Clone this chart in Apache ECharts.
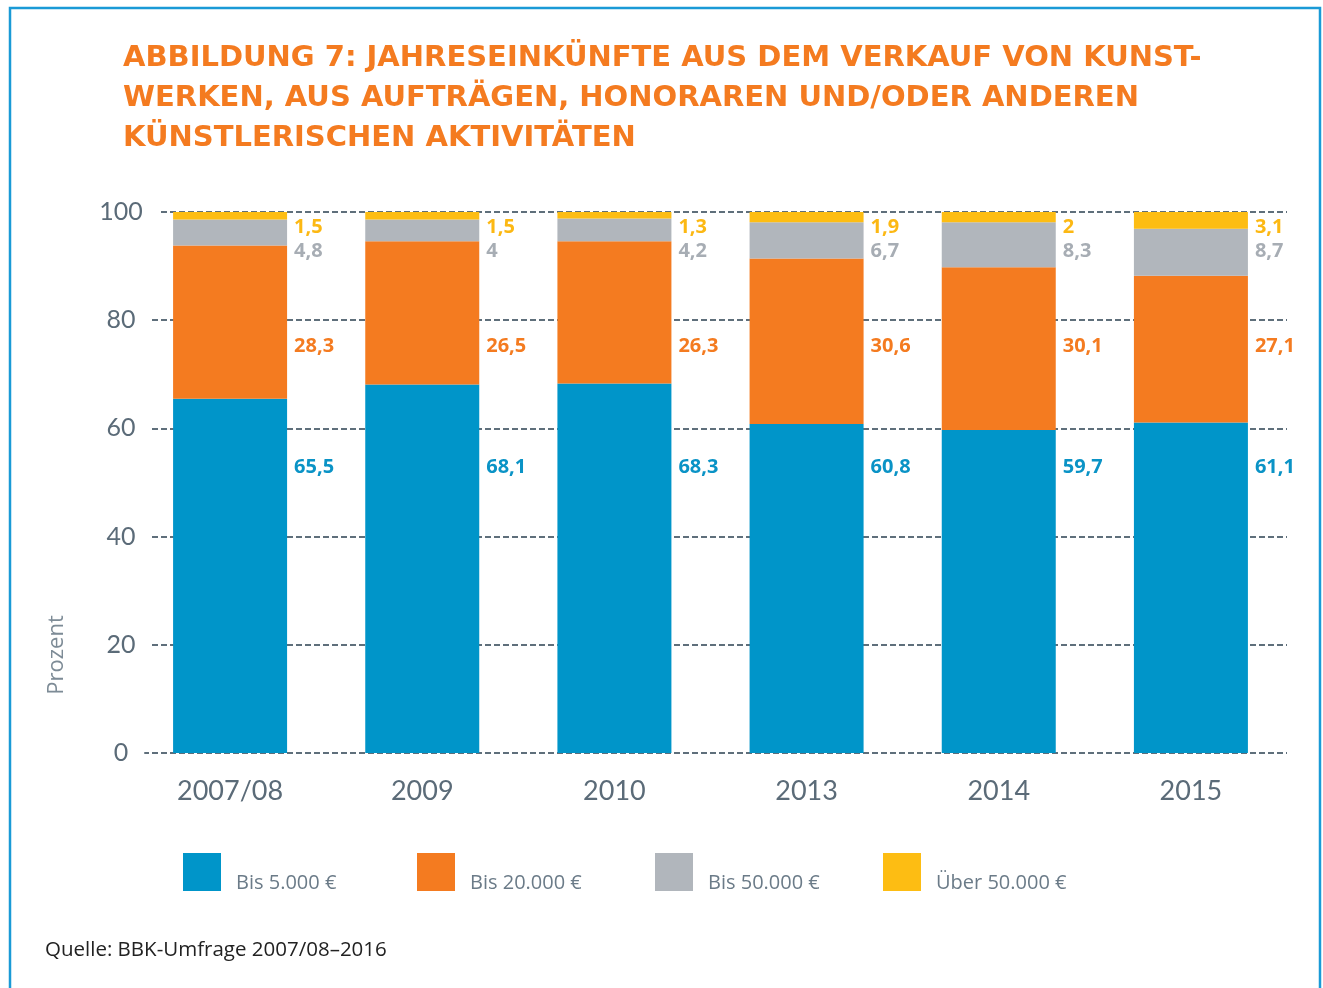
<!DOCTYPE html>
<html>
<head>
<meta charset="utf-8">
<script src="https://cdn.jsdelivr.net/npm/echarts@6/dist/echarts.min.js"></script>
<style>
  html, body { margin: 0; padding: 0; background: #fff; }
  #chart { width: 1323px; height: 988px; }
</style>
</head>
<body>
<div id="chart"></div>
<script>
// values as printed in the chart (percent)
const categories = ['2007/08', '2009', '2010', '2013', '2014', '2015']
const seriesNames = ['Bis 5.000 €', 'Bis 20.000 €', 'Bis 50.000 €', 'Über 50.000 €']
const bis5000 = [65.5, 68.1, 68.3, 60.8, 59.7, 61.1]
const bis20000 = [28.3, 26.5, 26.3, 30.6, 30.1, 27.1]
const bis50000 = [4.8, 4, 4.2, 6.7, 8.3, 8.7]
const ueber50000 = [1.5, 1.5, 1.3, 1.9, 2, 3.1]
const yTicks = [0, 20, 40, 60, 80, 100]

const colors = ['#0095c9', '#f47b20', '#b1b6bc', '#fdbd13']
const labelColors = ['#0a93c6', '#f47b20', '#a7adb4', '#fcb813']
// labels sit in fixed rows next to the bars (axis units)
const labelRows = [52.9, 75.2, 92.7, 97.2]
const legendLeft = [183, 417, 655, 883]

const FONT = 'Lato, "Noto Sans", sans-serif'
const WIDE = '"Open Sans", "Noto Sans", sans-serif'
const chart = echarts.init(document.getElementById('chart'))

function fmt(v) {
  return String(v).replace('.', ',')
}

const series = [bis5000, bis20000, bis50000, ueber50000].map((data, i) => ({
  name: seriesNames[i],
  type: 'bar',
  stack: 'total',
  barWidth: 114,
  data: data,
  itemStyle: { color: colors[i] },
  label: {
    show: true,
    position: 'right',
    formatter: p => fmt(p.value),
    color: labelColors[i],
    fontFamily: WIDE,
    fontWeight: 'bold',
    fontSize: 20
  },
  labelLayout: function (p) {
    let y = chart.convertToPixel({ yAxisIndex: 0 }, labelRows[i])
    return {
      x: p.rect.x + p.rect.width + 7,
      y: y,
      align: 'left',
      verticalAlign: 'middle'
    }
  },
  animation: false
}))

const legends = seriesNames.map((name, i) => ({
  data: [name],
  left: legendLeft[i],
  top: 850,
  padding: 0,
  itemWidth: 38,
  itemHeight: 38,
  icon: 'rect',
  selectedMode: false,
  formatter: n => '\n' + n,
  textStyle: {
    fontFamily: WIDE,
    fontSize: 20,
    lineHeight: 22,
    color: '#6b7b88',
    padding: [0, 0, 0, 10]
  }
}))

chart.setOption({
  animation: false,
  title: {
    text: 'ABBILDUNG 7: JAHRESEINKÜNFTE AUS DEM VERKAUF VON KUNST-\nWERKEN, AUS AUFTRÄGEN, HONORAREN UND/ODER ANDEREN\nKÜNSTLERISCHEN AKTIVITÄTEN',
    left: 123,
    top: 38,
    padding: 0,
    textStyle: {
      fontFamily: '"DejaVu Sans", sans-serif',
      fontWeight: 'bold',
      fontSize: 29,
      lineHeight: 40,
      color: '#f47b20'
    }
  },
  legend: legends,
  grid: {
    left: 134,
    right: 36,
    top: 212,
    bottom: 235,
    containLabel: false
  },
  xAxis: {
    type: 'category',
    data: categories,
    axisLine: { show: false },
    axisTick: { show: false },
    axisLabel: {
      margin: 25,
      fontFamily: FONT,
      fontSize: 27,
      color: '#5b6b78'
    }
  },
  yAxis: {
    type: 'value',
    min: yTicks[0],
    max: yTicks[yTicks.length - 1],
    interval: yTicks[1] - yTicks[0],
    axisLine: { show: false },
    axisTick: { show: false },
    axisLabel: {
      align: 'center',
      margin: 13,
      fontFamily: FONT,
      fontSize: 25,
      color: '#5b6b78',
      backgroundColor: '#fff',
      padding: [0, 16, 0, 16]
    },
    splitLine: {
      show: true,
      lineStyle: { color: '#5f6f7b', width: 2, type: [6, 3] }
    }
  },
  graphic: [
    {
      type: 'rect',
      shape: { x: 10, y: 8, width: 1310, height: 1010 },
      style: { fill: null, stroke: '#1a9ad6', lineWidth: 2.5 },
      silent: true
    },
    {
      type: 'text',
      x: 57,
      y: 655,
      rotation: Math.PI / 2,
      style: {
        text: 'Prozent',
        fontFamily: WIDE,
        fontSize: 22,
        fill: '#7d8b96',
        align: 'center',
        verticalAlign: 'middle'
      }
    },
    {
      type: 'text',
      left: 45,
      top: 940,
      style: {
        text: 'Quelle: BBK-Umfrage 2007/08–2016',
        fontFamily: WIDE,
        fontSize: 20.5,
        fill: '#222'
      }
    }
  ],
  series: series
})
</script>
</body>
</html>
